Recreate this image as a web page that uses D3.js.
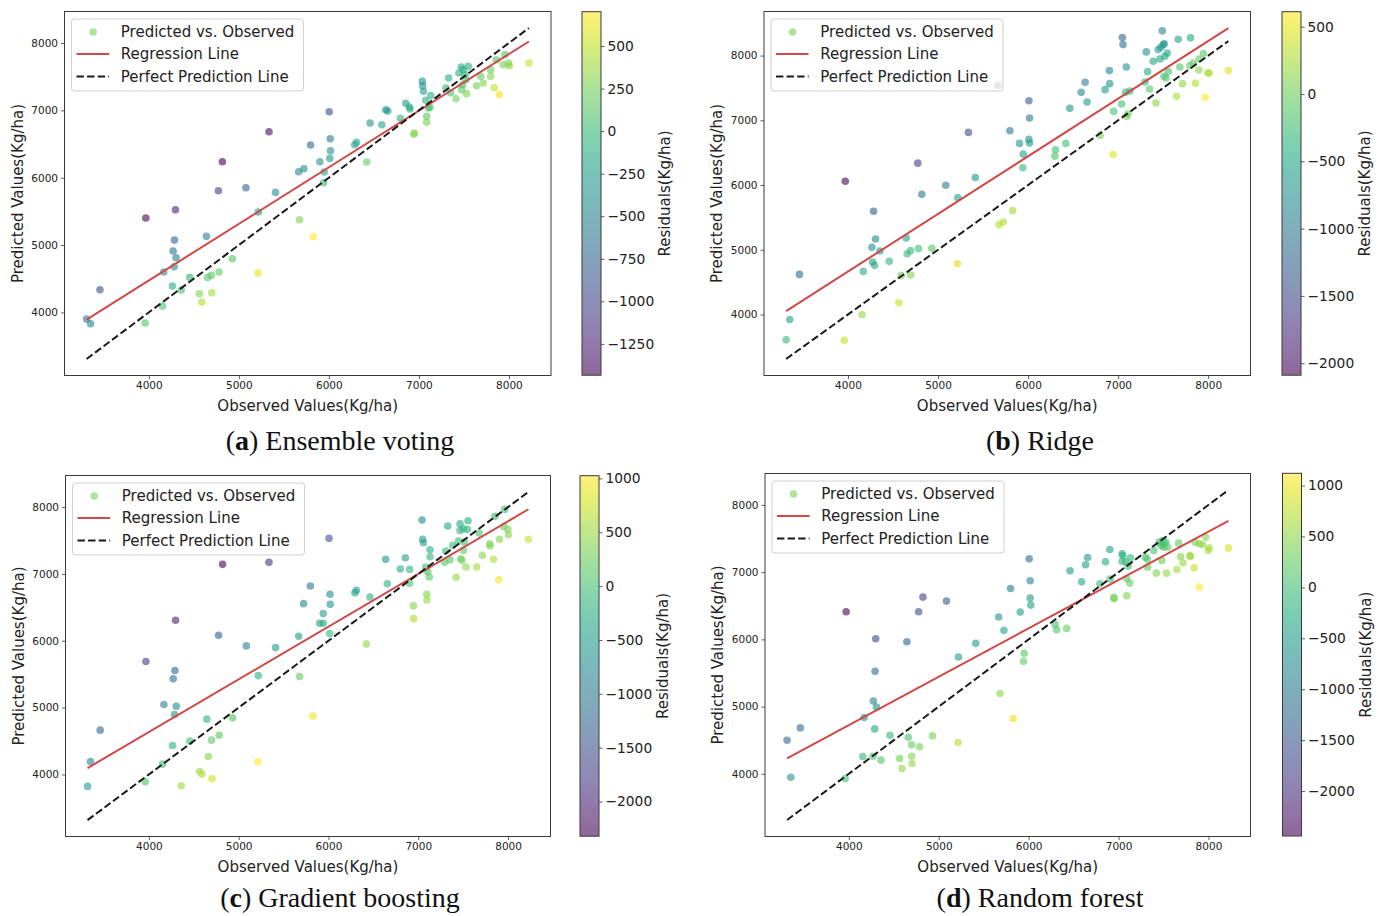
<!DOCTYPE html>
<html>
<head>
<meta charset="utf-8">
<script src="https://cdn.jsdelivr.net/npm/d3@7"></script>
<style>
    body { margin: 0; background: #fff; }
    svg text { font-family: "DejaVu Sans", sans-serif; fill: #222; }
</style>
</head>
<body>
<svg id="fig" width="1384" height="916"></svg>
<script>
// observed / predicted yields (Kg/ha)
let obsA = [3309,3353,3457,3959,3967,4152,4166,4262,4270,4285,4296,4303,4281,4359,4455,4562,4588,4640,4654,4695,4699,4773,4780,4817,4928,5079,5213,5216,5335,5408,5664,5675,5723,5797,5826,5900,5941,5948,6004,6015,6018,6011,6288,6307,6421,6458,6588,6632,6654,6795,6854,6895,6902,6943,6950,7039,7043,7050,7087,7087,7076,7106,7124,7132,7301,7331,7353,7412,7445,7471,7475,7493,7512,7530,7549,7523,7486,7641,7686,7715,7797,7797,7837,7863,7893,7956,7937,7996,8004,8222];
let predA = [3901,3832,4337,3842,5401,4094,4599,4391,4911,5074,5525,4812,4678,4332,4520,4277,4153,5129,4520,4550,4292,5807,4599,6238,4797,5851,4584,5490,6683,5782,6089,5376,6134,6485,5124,6238,5926,6084,6980,6579,6401,6287,6490,6525,6233,6812,6787,7010,6990,6881,7104,7050,7020,6644,6663,7431,7366,7282,6911,6822,7149,7035,7045,7218,7332,7480,7262,7173,7554,7644,7307,7604,7530,7248,7653,7455,7381,7366,7505,7406,7604,7505,7337,7752,7233,7827,7678,7703,7663,7703];

let obsB = [3313,3354,3461,3959,3970,4155,4170,4266,4273,4284,4295,4306,4355,4458,4565,4591,4646,4657,4694,4697,4775,4783,4820,4931,5086,5215,5219,5337,5414,5665,5677,5725,5798,5828,5905,5946,5942,6009,6009,6016,6016,6297,6304,6419,6463,6589,6633,6655,6799,6855,6903,6906,6943,6950,7039,7046,7054,7083,7091,7095,7109,7131,7298,7312,7327,7349,7419,7390,7445,7464,7475,7490,7501,7512,7519,7545,7508,7530,7556,7648,7667,7685,7715,7796,7804,7833,7859,7896,7900,7948,7966,7996,8010,8224];
let predB = [3608,3923,4619,3603,6059,3995,4666,5037,4810,5595,4759,5166,4981,4821,4181,4604,5182,4939,4986,4609,6338,5017,5858,5022,5997,4785,5806,6813,6116,7541,5388,5430,6839,5605,6643,6477,6266,7303,6705,6648,7035,6446,6545,6643,7185,7432,7587,7283,6767,7474,7768,7566,6472,7138,7252,8279,8170,7432,7824,7061,7102,7453,7592,8057,7752,7484,7267,7912,8093,7948,8129,8382,8170,8181,7990,8041,7680,7654,7752,7370,8253,7824,7566,7845,8274,7886,7572,7778,7948,8031,7355,7732,7732,7768];

let obsC = [3317,3350,3458,3959,3967,4152,4167,4264,4271,4286,4290,4305,4297,4360,4457,4565,4591,4646,4661,4698,4702,4776,4784,4821,4932,5085,5214,5218,5337,5411,5668,5679,5723,5798,5827,5902,5942,5942,6006,6017,6020,6013,6295,6310,6422,6462,6637,6655,6800,6856,6904,6904,6945,6949,7042,7049,7057,7083,7094,7097,7105,7123,7131,7131,7294,7306,7328,7354,7383,7421,7447,7465,7465,7472,7487,7502,7513,7531,7547,7554,7502,7651,7677,7714,7796,7800,7837,7855,7896,7904,7963,7952,7997,8004,8227];
let predC = [3821,4194,4663,3890,5689,4154,5046,4433,5430,4897,5554,5021,6306,3831,4498,4045,4005,4827,4269,4513,3935,6082,4588,7143,4847,5923,4189,5479,7173,5898,6067,5465,6555,6819,4872,6262,6406,6262,7532,6695,6545,6107,6720,6755,5953,6655,7218,6854,7073,7243,7068,6859,6525,6331,7806,7517,7467,7103,6695,6610,7034,6954,7362,7258,7173,7342,7716,7213,7427,6949,7492,7751,7651,7228,7203,7676,7477,7103,7666,7796,7352,7103,7611,7278,7452,7417,7218,7861,6914,7517,7965,7711,7666,7587,7517];

let obsD = [3313,3354,3461,3959,3970,4155,4170,4270,4273,4288,4292,4299,4307,4358,4458,4565,4591,4646,4661,4698,4698,4702,4776,4787,4824,4931,5086,5215,5219,5330,5411,5666,5681,5725,5799,5828,5906,5943,5950,6006,6017,6017,6024,6294,6312,6423,6460,6589,6633,6656,6792,6855,6903,6907,6947,6951,7040,7047,7040,7080,7091,7091,7106,7125,7132,7298,7321,7324,7391,7420,7453,7472,7490,7501,7509,7527,7546,7483,7535,7649,7668,7690,7716,7793,7801,7841,7852,7897,7897,7933,7970,7996,8007,8222];
let predD = [4500,3950,4683,3931,6411,4257,4837,4262,5084,4668,5525,6010,4995,4203,4574,4228,4079,5965,4545,4431,4262,4153,6411,4401,6629,4564,6569,4465,5738,7460,5941,6332,5193,6134,6757,4822,6406,5673,5792,7198,6871,6614,6510,6223,6144,6163,7020,6856,7109,7218,6827,7153,7337,6896,6624,6604,7272,7248,7163,7153,6649,6901,7089,6837,7213,7223,7193,7074,7322,6985,7446,7396,7470,7371,7421,7446,7371,7173,6985,7040,7431,7233,7139,7248,7233,7064,7446,6777,7421,7411,7520,7322,7361,7361];

let axisTicks = [4000, 5000, 6000, 7000, 8000];
let cbarSteps = [250, 500, 500, 500];
let captionLetters = ["a", "b", "c", "d"];
let captionNames = ["Ensemble voting", "Ridge", "Gradient boosting", "Random forest"];
let legendLabels = ["Predicted vs. Observed", "Regression Line", "Perfect Prediction Line"];

// pixel layout of each panel (axes box, colorbar box, caption centre)
let layout = [
    {ax: {x: 64.5, y: 11.5, w: 486.5, h: 364}, cb: {x: 582, y: 11.7, w: 19, h: 363.5}, cap: {x: 340, y: 450}},
    {ax: {x: 764, y: 11.5, w: 486.5, h: 364}, cb: {x: 1282, y: 11.7, w: 19, h: 363.5}, cap: {x: 1040, y: 450}},
    {ax: {x: 65.5, y: 475.5, w: 485, h: 361}, cb: {x: 580, y: 475.7, w: 19, h: 360.5}, cap: {x: 340, y: 907}},
    {ax: {x: 765, y: 473.5, w: 485.5, h: 363}, cb: {x: 1282.5, y: 473.3, w: 19, h: 362.7}, cap: {x: 1040, y: 907}}
];

let series = [[obsA, predA], [obsB, predB], [obsC, predC], [obsD, predD]];

let svg = d3.select("#fig");
let lineRed = "#d04848";
let fmt = d3.format("d");

// least squares fit, returns [slope, intercept]
function fit(x, y) {
    let mx = d3.mean(x), my = d3.mean(y);
    let sxy = 0, sxx = 0;
    x.forEach(function(v, i) { sxy += (v - mx) * (y[i] - my); sxx += (v - mx) * (v - mx); });
    let b = sxy / sxx;
    return [b, my - b * mx];
}

// matplotlib style 5% margins
function padded(ext) {
    let m = (ext[1] - ext[0]) * 0.05;
    return [ext[0] - m, ext[1] + m];
}

series.forEach(function(s, p) {
    let obs = s[0], pred = s[1];
    let L = layout[p];
    let ax = L.ax, cb = L.cb;
    let pts = obs.map(function(o, i) { return {o: o, p: pred[i], r: o - pred[i]}; });

    let coef = fit(obs, pred);
    let xExt = d3.extent(obs);
    let reg = xExt.map(function(v) { return [v, coef[0] * v + coef[1]]; });
    let perfect = xExt.map(function(v) { return [v, v]; });

    let yExt = d3.extent(pred.concat(xExt, reg.map(function(d) { return d[1]; })));

    let x = d3.scaleLinear().domain(padded(xExt)).range([ax.x, ax.x + ax.w]);
    let y = d3.scaleLinear().domain(padded(yExt)).range([ax.y + ax.h, ax.y]);

    let rExt = d3.extent(pts, function(d) { return d.r; });
    let color = d3.scaleSequential(d3.interpolateViridis).domain(rExt);

    let g = svg.append("g");

    // clip for marks
    let clipId = "clip" + p;
    g.append("clipPath").attr("id", clipId)
        .append("rect").attr("x", ax.x).attr("y", ax.y).attr("width", ax.w).attr("height", ax.h);

    let plot = g.append("g").attr("clip-path", "url(#" + clipId + ")");

    plot.selectAll("circle")
        .data(pts)
        .enter()
        .append("circle")
        .attr("cx", function(d) { return x(d.o); })
        .attr("cy", function(d) { return y(d.p); })
        .attr("r", 3.8)
        .attr("fill", function(d) { return color(d.r); })
        .attr("fill-opacity", 0.6);

    let line = d3.line().x(function(d) { return x(d[0]); }).y(function(d) { return y(d[1]); });

    plot.append("path")
        .attr("d", line(reg))
        .attr("stroke", lineRed)
        .attr("stroke-width", 2)
        .attr("fill", "none");

    plot.append("path")
        .attr("d", line(perfect))
        .attr("stroke", "#1a1a1a")
        .attr("stroke-width", 2)
        .attr("stroke-dasharray", "7.4,3.2")
        .attr("fill", "none");

    // axes
    let xAxis = d3.axisBottom(x).tickValues(axisTicks).tickSize(3.5).tickPadding(3).tickFormat(fmt);
    let yAxis = d3.axisLeft(y).tickValues(axisTicks).tickSize(3.5).tickPadding(3).tickFormat(fmt);

    let gx = g.append("g").attr("transform", "translate(0," + (ax.y + ax.h) + ")").call(xAxis);
    let gy = g.append("g").attr("transform", "translate(" + ax.x + ",0)").call(yAxis);
    [gx, gy].forEach(function(a) {
        a.select(".domain").remove();
        a.selectAll(".tick line").attr("stroke", "#333").attr("stroke-width", 0.8);
        a.selectAll(".tick text").attr("font-size", 10.5).attr("fill", "#222")
            .attr("font-family", "DejaVu Sans");
    });

    g.append("rect")
        .attr("x", ax.x).attr("y", ax.y).attr("width", ax.w).attr("height", ax.h)
        .attr("fill", "none").attr("stroke", "#3a3a3a").attr("stroke-width", 1);

    // axis titles
    g.append("text")
        .attr("x", ax.x + ax.w / 2)
        .attr("y", ax.y + ax.h + 35)
        .attr("text-anchor", "middle")
        .attr("font-size", 15)
        .text("Observed Values(Kg/ha)");

    g.append("text")
        .attr("transform", "translate(" + (ax.x - 42) + "," + (ax.y + ax.h / 2) + ") rotate(-90)")
        .attr("text-anchor", "middle")
        .attr("font-size", 15)
        .text("Predicted Values(Kg/ha)");

    // legend
    let lx = ax.x + 7, ly = ax.y + 7.5;
    let leg = g.append("g");
    leg.append("rect")
        .attr("x", lx).attr("y", ly).attr("width", 232).attr("height", 72).attr("rx", 3)
        .attr("fill", "#fff").attr("fill-opacity", 0.8)
        .attr("stroke", "#d0d0d0").attr("stroke-width", 1);
    let rows = [13, 35, 57.4];
    leg.append("circle")
        .attr("cx", lx + 21.6).attr("cy", ly + rows[0]).attr("r", 3.8)
        .attr("fill", d3.interpolateViridis(0.8)).attr("fill-opacity", 0.6);
    leg.append("line")
        .attr("x1", lx + 5).attr("x2", lx + 37.6).attr("y1", ly + rows[1]).attr("y2", ly + rows[1])
        .attr("stroke", lineRed).attr("stroke-width", 2);
    leg.append("line")
        .attr("x1", lx + 5).attr("x2", lx + 37.6).attr("y1", ly + rows[2]).attr("y2", ly + rows[2])
        .attr("stroke", "#1a1a1a").attr("stroke-width", 2).attr("stroke-dasharray", "7.4,3.2");
    legendLabels.forEach(function(t, i) {
        leg.append("text")
            .attr("x", lx + 49.3).attr("y", ly + rows[i])
            .attr("dy", "0.36em")
            .attr("font-size", 15)
            .text(t);
    });

    // colorbar
    let gradId = "grad" + p;
    let grad = g.append("defs").append("linearGradient")
        .attr("id", gradId).attr("x1", 0).attr("y1", 1).attr("x2", 0).attr("y2", 0);
    d3.range(0, 1.0001, 0.05).forEach(function(t) {
        grad.append("stop")
            .attr("offset", t)
            .attr("stop-color", d3.interpolateViridis(t))
            .attr("stop-opacity", 0.6);
    });
    g.append("rect")
        .attr("x", cb.x).attr("y", cb.y).attr("width", cb.w).attr("height", cb.h)
        .attr("fill", "url(#" + gradId + ")")
        .attr("stroke", "#3a3a3a").attr("stroke-width", 1);

    let cy = d3.scaleLinear().domain(rExt).range([cb.y + cb.h, cb.y]);
    let step = cbarSteps[p];
    let cTicks = d3.range(Math.ceil(rExt[0] / step) * step, rExt[1] + 1, step);
    let cAxis = d3.axisRight(cy).tickValues(cTicks).tickSize(3.5).tickPadding(3).tickFormat(fmt);
    let gc = g.append("g").attr("transform", "translate(" + (cb.x + cb.w) + ",0)").call(cAxis);
    gc.select(".domain").remove();
    gc.selectAll(".tick line").attr("stroke", "#333").attr("stroke-width", 0.8);
    gc.selectAll(".tick text").attr("font-size", 13.8).attr("fill", "#222").attr("font-family", "DejaVu Sans");

    g.append("text")
        .attr("transform", "translate(" + (cb.x + cb.w + 69) + "," + (cb.y + cb.h / 2) + ") rotate(-90)")
        .attr("text-anchor", "middle")
        .attr("font-size", 15)
        .text("Residuals(Kg/ha)");

    // caption
    let cap = g.append("text")
        .attr("x", L.cap.x).attr("y", L.cap.y)
        .attr("text-anchor", "middle")
        .attr("font-size", 28)
        .style("font-family", "'Liberation Serif', serif")
        .style("fill", "#111");
    cap.append("tspan").text("(");
    cap.append("tspan").attr("font-weight", "bold").text(captionLetters[p]);
    cap.append("tspan").text(") " + captionNames[p]);
});
</script>
</body>
</html>
